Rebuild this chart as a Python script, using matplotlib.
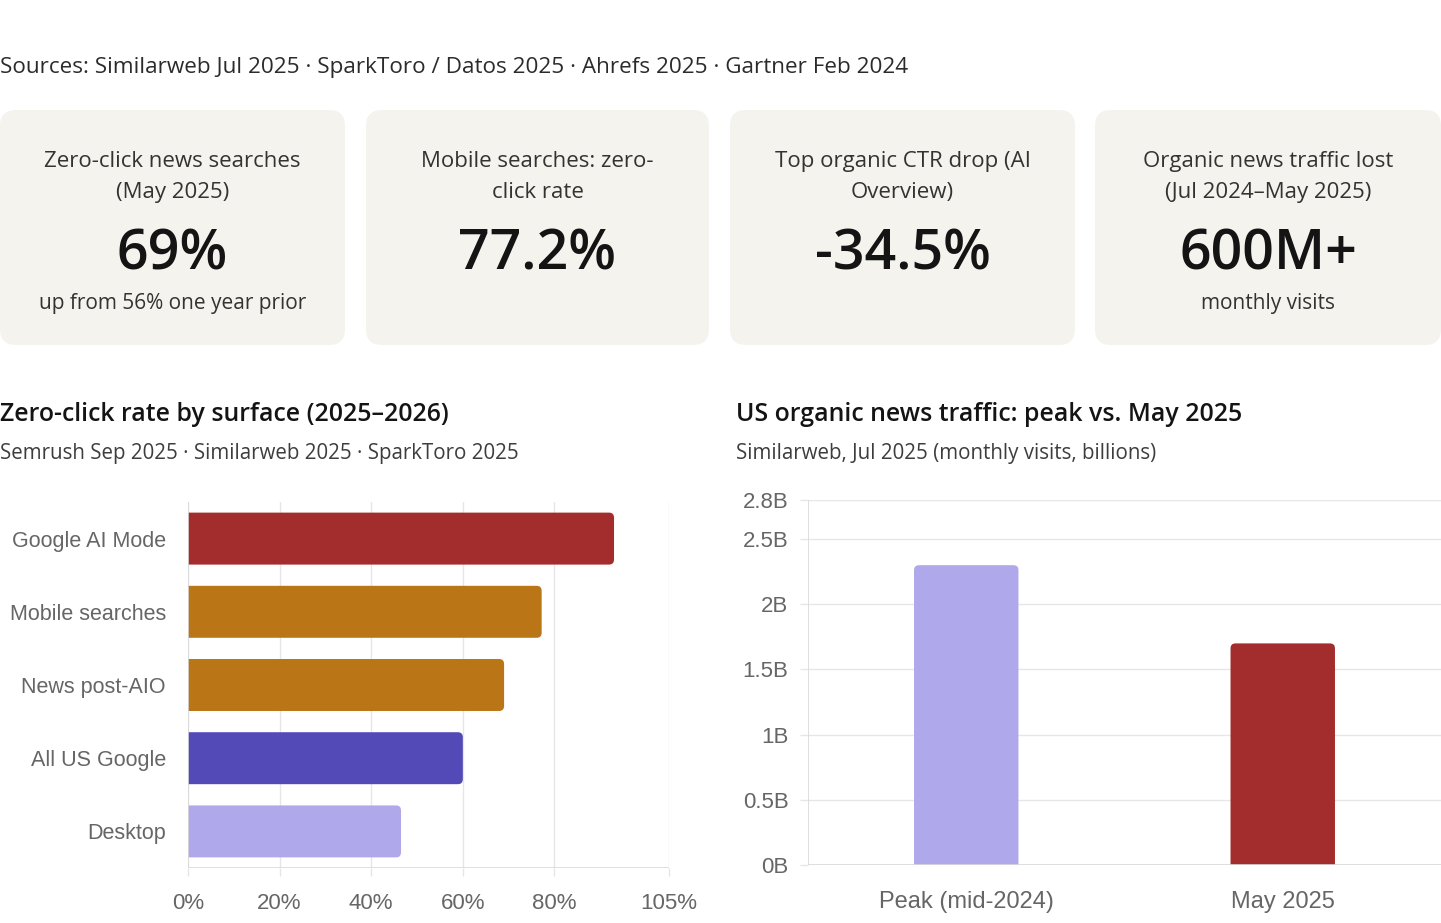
import matplotlib.pyplot as plt
from matplotlib.patches import FancyBboxPatch

W, H = 1441, 923

# --- data ---
sources = "Sources: Similarweb Jul 2025 · SparkToro / Datos 2025 · Ahrefs 2025 · Gartner Feb 2024"

card_labels = ["Zero-click news searches\n(May 2025)", "Mobile searches: zero-\nclick rate",
               "Top organic CTR drop (AI\nOverview)", "Organic news traffic lost\n(Jul 2024–May 2025)"]
card_values = ["69%", "77.2%", "-34.5%", "600M+"]
card_notes = ["up from 56% one year prior", "", "", "monthly visits"]

surfaces = ["Google AI Mode", "Mobile searches", "News post-AIO", "All US Google", "Desktop"]
zero_click = [93, 77.2, 69, 60, 46.5]
surface_colors = ["#a32d2d", "#ba7517", "#ba7517", "#534ab7", "#afa9ec"]
pct_ticks = [0, 20, 40, 60, 80, 105]

periods = ["Peak (mid-2024)", "May 2025"]
visits = [2.3, 1.7]
period_colors = ["#afa9ec", "#a32d2d"]
visit_ticks = [0, 0.5, 1, 1.5, 2, 2.5, 2.8]

UI = ["Open Sans", "DejaVu Sans"]
CH = ["Liberation Sans", "DejaVu Sans"]
GRID = "#e6e6e6"
TICK = "#666666"


def fx(x):
    return x / W


def fy(y):
    return 1 - y / H


def ax_rect(x0, y0, x1, y1):
    return [x0 / W, 1 - y1 / H, (x1 - x0) / W, (y1 - y0) / H]


def style_axes(ax):
    for s in ax.spines.values():
        s.set_visible(False)
    ax.tick_params(colors=GRID, labelcolor=TICK, length=6, width=1)
    ax.set_axisbelow(True)


def round_bars(ax, bars, radius_px=5, horizontal=True):
    # round the far end of each bar; the base end runs past the axis and is clipped off
    fig.canvas.draw()
    (x0, y0), (x1, y1) = ax.transData.transform([(0, 0), (1, 1)])
    xpp = 1 / abs(x1 - x0)   # data units per pixel
    ypp = 1 / abs(y1 - y0)
    for p in bars:
        x, y, w, h = p.get_x(), p.get_y(), p.get_width(), p.get_height()
        if horizontal:
            x, w = x - 3 * radius_px * xpp, w + 3 * radius_px * xpp
        else:
            y, h = y - 3 * radius_px * ypp, h + 3 * radius_px * ypp
        ax.add_patch(FancyBboxPatch((x, y), w, h,
                                    boxstyle=f"round,pad=0,rounding_size={radius_px * xpp}",
                                    mutation_aspect=ypp / xpp,
                                    fc=p.get_facecolor(), ec="none", zorder=p.get_zorder()))
        p.set_visible(False)


fig = plt.figure(figsize=(W / 100, H / 100), dpi=100)
fig.patch.set_facecolor("white")

fig.text(fx(0), fy(68), sources, fontsize=16.2, color="#2b2b2b", family=UI, va="center")

# --- KPI cards ---
cards = [(0, 345), (366, 709), (730, 1075), (1095, 1441)]
bg = fig.add_axes([0, 0, 1, 1], zorder=-1)
bg.set_xlim(0, W)
bg.set_ylim(H, 0)
bg.axis("off")
for (x0, x1), lab, val, note in zip(cards, card_labels, card_values, card_notes):
    bg.add_patch(FancyBboxPatch((x0 + 14, 110 + 14), x1 - x0 - 28, 235 - 28,
                                boxstyle="round,pad=14,rounding_size=16",
                                fc="#f4f3ee", ec="none"))
    cx = (x0 + x1) / 2
    fig.text(fx(cx), fy(177), lab, fontsize=16, color="#333333", family=UI,
             ha="center", va="center", linespacing=1.6)
    fig.text(fx(cx), fy(256), val, fontsize=40, color="#141414", family=UI,
             ha="center", va="center", weight="semibold")
    if note:
        fig.text(fx(cx), fy(304), note, fontsize=15, color="#333333", family=UI,
                 ha="center", va="center")

# --- section titles ---
fig.text(fx(0), fy(414), "Zero-click rate by surface (2025–2026)", fontsize=17.9,
         weight="semibold", color="#141414", family=UI, va="center")
fig.text(fx(0), fy(454), "Semrush Sep 2025 · Similarweb 2025 · SparkToro 2025", fontsize=14.8,
         color="#3d3d3d", family=UI, va="center")
fig.text(fx(736), fy(414), "US organic news traffic: peak vs. May 2025", fontsize=17.9,
         weight="semibold", color="#141414", family=UI, va="center")
fig.text(fx(736), fy(454), "Similarweb, Jul 2025 (monthly visits, billions)", fontsize=14.8,
         color="#3d3d3d", family=UI, va="center")

# --- horizontal bar chart ---
ax1 = fig.add_axes(ax_rect(188, 502, 669, 868))
style_axes(ax1)
bars1 = ax1.barh(surfaces, zero_click, height=0.71, color=surface_colors)
ax1.set_ylim(4.5, -0.5)
ax1.set_xlim(0, 105)
ax1.set_xticks(pct_ticks)
ax1.set_xticklabels([f"{t}%" for t in pct_ticks], fontsize=16, family=CH)
for lab in ax1.get_yticklabels():
    lab.set_family(CH)
    lab.set_fontsize(15.5)
ax1.tick_params(axis="y", length=0, pad=16)
ax1.tick_params(axis="x", pad=12)
ax1.grid(axis="x", color=GRID, lw=1)
ax1.axvline(0, color="#d9d9d9", lw=1.2, zorder=3)
ax1.axhline(4.5, color="#d9d9d9", lw=1.2)
round_bars(ax1, bars1, horizontal=True)

# --- vertical bar chart ---
ax2 = fig.add_axes(ax_rect(808, 500, 1441, 865))
style_axes(ax2)
bars2 = ax2.bar(periods, visits, width=0.33, color=period_colors)
ax2.set_xlim(-0.5, 1.5)
ax2.set_ylim(0, 2.8)
ax2.set_yticks(visit_ticks)
ax2.set_yticklabels([f"{t:g}B" for t in visit_ticks], fontsize=16, family=CH)
for lab in ax2.get_xticklabels():
    lab.set_family(CH)
    lab.set_fontsize(17)
ax2.tick_params(axis="x", length=0, pad=19)
ax2.tick_params(axis="y", pad=8)
ax2.grid(axis="y", color=GRID, lw=1)
ax2.axvline(-0.5, color="#d9d9d9", lw=1.2)
ax2.axhline(0, color="#d9d9d9", lw=1.2, zorder=3)
round_bars(ax2, bars2, horizontal=False)

fig.savefig("out.png", dpi=100)
